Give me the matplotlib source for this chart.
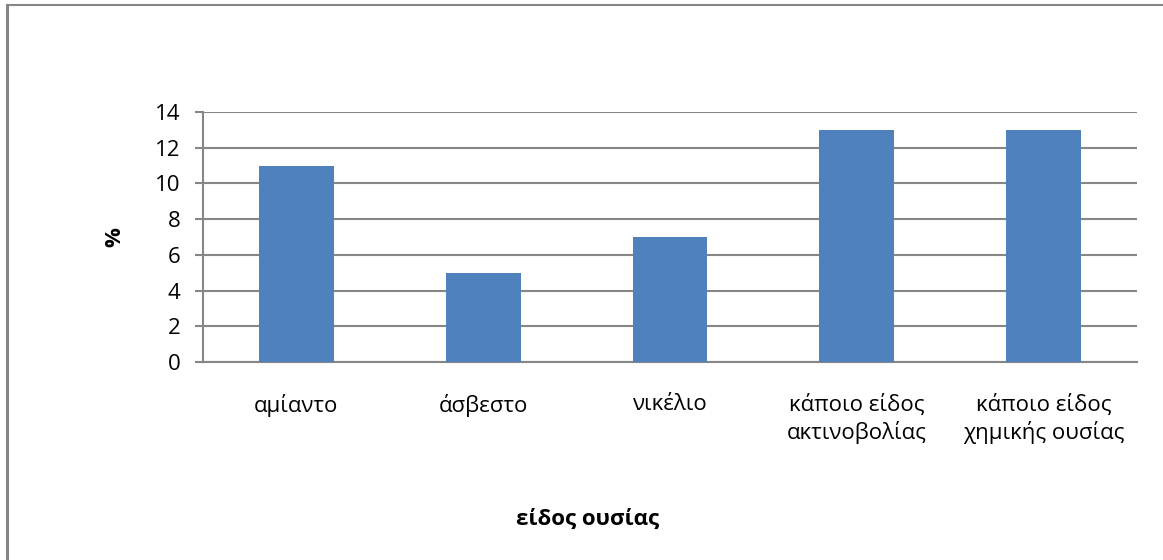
import matplotlib
matplotlib.use('Agg')
from matplotlib import pyplot as plt
from matplotlib.lines import Line2D

categories = ['αμίαντο', 'άσβεστο', 'νικέλιο',
              'κάποιο είδος\nακτινοβολίας', 'κάποιο είδος\nχημικής ουσίας']
values = [11, 5, 7, 13, 13]
y_ticks = [0, 2, 4, 6, 8, 10, 12, 14]

plt.rcParams['font.family'] = ['Open Sans', 'DejaVu Sans']
fs = 16

fig = plt.figure(figsize=(11.63, 5.6), dpi=100)
ax = fig.add_axes([0.1745, 0.3536, 0.8032, 0.4464])

grid_col = '#868686'
ax.bar(range(len(values)), values, width=0.4, color='#4F81BD', zorder=3)
ax.set_xlim(-0.5, len(values) - 0.5)
ax.set_ylim(0, 14)
ax.set_yticks(y_ticks)
ax.set_yticklabels([str(v) for v in y_ticks], fontsize=fs)
ax.set_xticks(range(len(values)))
ax.set_xticklabels(categories, fontsize=fs, linespacing=1.3)
ax.tick_params(axis='x', length=0, pad=23)
ax.tick_params(axis='y', length=6, width=1.5, color=grid_col, pad=10)
ax.grid(axis='y', color=grid_col, linewidth=1.5, zorder=0)

for side in ['top', 'right']:
    ax.spines[side].set_visible(False)
for side in ['left', 'bottom']:
    ax.spines[side].set_color(grid_col)
    ax.spines[side].set_linewidth(1.5)

fig.text(0.0989, 0.577, '%', rotation=90, ha='center', va='center',
         fontsize=fs, fontweight='bold')
fig.text(0.5056, 0.073, 'είδος ουσίας', ha='center', va='center',
         fontsize=fs, fontweight='bold')

# chart area frame (left and top edges)
x0, y1 = 6.5 / 1163, 1 - 4.5 / 560
fig.add_artist(Line2D([x0, x0], [0, y1], color='#868686', linewidth=2.2,
                      transform=fig.transFigure))
fig.add_artist(Line2D([x0, 1], [y1, y1], color='#868686', linewidth=1.5,
                      transform=fig.transFigure))

fig.savefig('out.png', dpi=100)
